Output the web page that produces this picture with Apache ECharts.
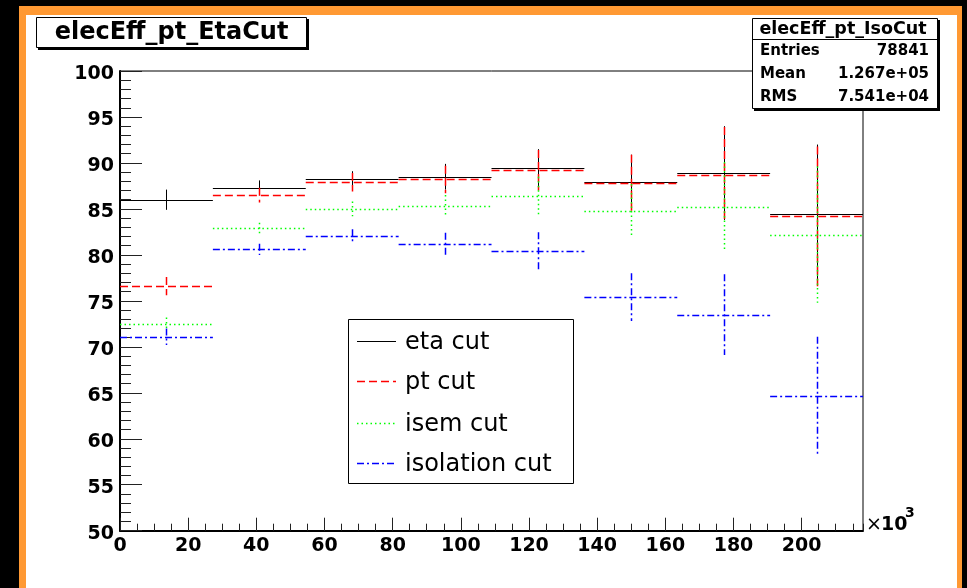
<!DOCTYPE html>
<html>
<head>
<meta charset="utf-8">
<script src="https://cdn.jsdelivr.net/npm/echarts@6/dist/echarts.min.js"></script>
<style>
html,body{margin:0;padding:0;background:#000;width:967px;height:588px;overflow:hidden;}
#orange{position:absolute;left:19px;top:6px;width:943px;height:582px;background:#ff9933;}
#white{position:absolute;left:26px;top:15px;width:931px;height:573px;background:#fff;}
#c{position:absolute;left:0;top:0;width:967px;height:588px;}
</style>
</head>
<body>
<div id="orange"></div>
<div id="white"></div>
<div id="c"></div>
<script>
// ---- data (x in units of 10^3) ----
var binEdges = [0, 27.25, 54.5, 81.75, 109, 136.25, 163.5, 190.75, 218];
var seriesNames = ['eta cut', 'pt cut', 'isem cut', 'isolation cut'];
var etaCut = [86.0, 87.3, 88.2, 88.5, 89.4, 87.9, 88.9, 84.5];
var etaErr = [1.1, 0.8, 0.9, 1.4, 2.1, 3.0, 5.1, 7.5];
var ptCut = [76.6, 86.5, 87.9, 88.2, 89.2, 87.8, 88.7, 84.2];
var ptErr = [1.0, 0.8, 1.0, 1.5, 2.2, 3.1, 5.2, 7.6];
var isemCut = [72.5, 82.9, 85.0, 85.3, 86.4, 84.8, 85.2, 82.2];
var isemErr = [0.7, 0.6, 0.8, 1.2, 2.1, 2.9, 4.9, 7.4];
var isoCut = [71.1, 80.6, 82.1, 81.2, 80.4, 75.4, 73.5, 64.7];
var isoErr = [0.9, 0.6, 0.7, 1.2, 2.05, 2.6, 4.4, 6.4];
var xTickLabels = ['0', '20', '40', '60', '80', '100', '120', '140', '160', '180', '200'];
var yTickLabels = ['50', '55', '60', '65', '70', '75', '80', '85', '90', '95', '100'];
var histTitle = 'elecEff_pt_EtaCut';
var statsTitle = 'elecEff_pt_IsoCut';
var statsNames = ['Entries', 'Mean', 'RMS'];
var statsValues = ['78841', '1.267e+05', '7.541e+04'];

var styles = [
  {color: '#000000', width: 1, dash: null},
  {color: '#ff0000', width: 1.5, dash: [8, 4]},
  {color: '#00ff00', width: 1.5, dash: [1.5, 3]},
  {color: '#0000ff', width: 1.5, dash: [7, 3, 2, 3]}
];
var values = [etaCut, ptCut, isemCut, isoCut];
var errors = [etaErr, ptErr, isemErr, isoErr];

function buildData(v, e) {
  var out = [];
  for (var i = 0; i < v.length; i++) out.push([binEdges[i], binEdges[i + 1], v[i], e[i]]);
  return out;
}

function makeRender(st) {
  return function (params, api) {
    var lo = api.value(0), hi = api.value(1), v = api.value(2), e = api.value(3);
    var a = api.coord([lo, v]), b = api.coord([hi, v]);
    var c = (lo + hi) / 2;
    var t = api.coord([c, v + e]), d = api.coord([c, v - e]);
    var style = {stroke: st.color, lineWidth: st.width, lineDash: st.dash, fill: null};
    var y = Math.round(a[1]) + 0.5, x = Math.round(t[0]) + 0.5;
    return {
      type: 'group',
      children: [
        {type: 'line', shape: {x1: a[0], y1: y, x2: b[0], y2: y}, style: style},
        {type: 'line', shape: {x1: x, y1: t[1], x2: x, y2: d[1]}, style: style}
      ]
    };
  };
}

var series = [];
for (var s = 0; s < 4; s++) {
  series.push({
    type: 'custom',
    name: seriesNames[s],
    xAxisIndex: 0,
    yAxisIndex: 0,
    clip: true,
    z: 2 + s,
    encode: {x: [0, 1], y: 2},
    renderItem: makeRender(styles[s]),
    data: buildData(values[s], errors[s])
  });
}

var labelFont = {fontFamily: 'DejaVu Sans', fontWeight: 'bold', fontSize: 19, color: '#000'};

// legend graphic
var legX = 348, legY = 319, legW = 225, legH = 164;
var entryY = [341, 381, 423, 463];
var graphics = [
  // title box
  {type: 'rect', shape: {x: 38, y: 19, width: 271, height: 31}, style: {fill: '#000'}, z: 10},
  {type: 'rect', shape: {x: 36.5, y: 17.5, width: 270, height: 30}, style: {fill: '#fff', stroke: '#000', lineWidth: 1}, z: 11},
  {type: 'text', x: 171.5, y: 33, style: {text: histTitle, fontFamily: 'DejaVu Sans', fontWeight: 'bold', fontSize: 24, fill: '#000', align: 'center', verticalAlign: 'middle'}, z: 12},
  // stats box
  {type: 'rect', shape: {x: 754, y: 20, width: 186, height: 91}, style: {fill: '#000'}, z: 10},
  {type: 'rect', shape: {x: 752.5, y: 18.5, width: 185, height: 90}, style: {fill: '#fff', stroke: '#000', lineWidth: 1}, z: 11},
  {type: 'line', shape: {x1: 752.5, y1: 39.5, x2: 937.5, y2: 39.5}, style: {stroke: '#000', lineWidth: 1}, z: 12},
  {type: 'text', x: 843, y: 29, style: {text: statsTitle, fontFamily: 'DejaVu Sans', fontWeight: 'bold', fontSize: 17.5, fill: '#000', align: 'center', verticalAlign: 'middle'}, z: 12},
  // legend box
  {type: 'rect', shape: {x: legX + 0.5, y: legY + 0.5, width: legW, height: legH}, style: {fill: '#fff', stroke: '#000', lineWidth: 1}, z: 20},
  // x10^3
  {type: 'text', x: 866, y: 525, style: {text: '\u00d7', fontFamily: 'DejaVu Sans', fontSize: 19, fill: '#000', align: 'left', verticalAlign: 'middle'}, z: 12},
  {type: 'text', x: 881, y: 525, style: {text: '10', fontFamily: 'DejaVu Sans', fontWeight: 'bold', fontSize: 19, fill: '#000', align: 'left', verticalAlign: 'middle'}, z: 12},
  {type: 'text', x: 905, y: 513, style: {text: '3', fontFamily: 'DejaVu Sans', fontWeight: 'bold', fontSize: 14, fill: '#000', align: 'left', verticalAlign: 'middle'}, z: 12}
];
var statsY = [51, 74, 97];
for (var k = 0; k < statsNames.length; k++) {
  graphics.push({type: 'text', x: 760, y: statsY[k], style: {text: statsNames[k], fontFamily: 'DejaVu Sans', fontWeight: 'bold', fontSize: 15, fill: '#000', align: 'left', verticalAlign: 'middle'}, z: 12});
  graphics.push({type: 'text', x: 929, y: statsY[k], style: {text: statsValues[k], fontFamily: 'DejaVu Sans', fontWeight: 'bold', fontSize: 15, fill: '#000', align: 'right', verticalAlign: 'middle'}, z: 12});
}
for (var j = 0; j < 4; j++) {
  graphics.push({type: 'line', shape: {x1: 357, y1: entryY[j] + 0.5, x2: 396, y2: entryY[j] + 0.5}, style: {stroke: styles[j].color, lineWidth: styles[j].width, lineDash: styles[j].dash}, z: 21});
  graphics.push({type: 'text', x: 405, y: entryY[j] + 2, style: {text: seriesNames[j], fontFamily: 'DejaVu Sans', fontSize: 24, fill: '#000', align: 'left', verticalAlign: 'middle'}, z: 21});
}

var chart = echarts.init(document.getElementById('c'), null, {renderer: 'canvas'});
chart.setOption({
  animation: false,
  backgroundColor: 'transparent',
  grid: {left: 120, top: 71, right: 104, bottom: 57.3, show: true, borderColor: '#000', borderWidth: 1, backgroundColor: 'transparent', containLabel: false},
  xAxis: [
    {
      type: 'value', min: 0, max: 218, interval: 20, position: 'bottom',
      axisLine: {show: true, onZero: false, lineStyle: {color: '#000', width: 2}},
      axisTick: {show: true, inside: true, length: 13, lineStyle: {color: '#222', width: 1}},
      axisLabel: Object.assign({margin: 6, showMaxLabel: false, formatter: function (v) { var i = Math.round(v / 20); return (v % 20 === 0 && i < xTickLabels.length) ? xTickLabels[i] : ''; }}, labelFont),
      splitLine: {show: false}
    },
    {
      type: 'value', min: 0, max: 218, interval: 5, position: 'bottom',
      axisLine: {show: false, onZero: false},
      axisTick: {show: true, inside: true, length: 7, lineStyle: {color: '#222', width: 1}},
      axisLabel: {show: false},
      splitLine: {show: false}
    }
  ],
  yAxis: [
    {
      type: 'value', min: 50, max: 100, interval: 5, position: 'left',
      axisLine: {show: true, onZero: false, lineStyle: {color: '#000', width: 2}},
      axisTick: {show: true, inside: true, length: 22, lineStyle: {color: '#222', width: 1}},
      axisLabel: Object.assign({margin: 6, verticalAlign: 'top', lineHeight: 6, formatter: function (v) { var i = Math.round((v - 50) / 5); return yTickLabels[i] || ''; }}, labelFont),
      splitLine: {show: false}
    },
    {
      type: 'value', min: 50, max: 100, interval: 1, position: 'left',
      axisLine: {show: false, onZero: false},
      axisTick: {show: true, inside: true, length: 11, lineStyle: {color: '#222', width: 1}},
      axisLabel: {show: false},
      splitLine: {show: false}
    }
  ],
  graphic: graphics,
  series: series
});
</script>
</body>
</html>
